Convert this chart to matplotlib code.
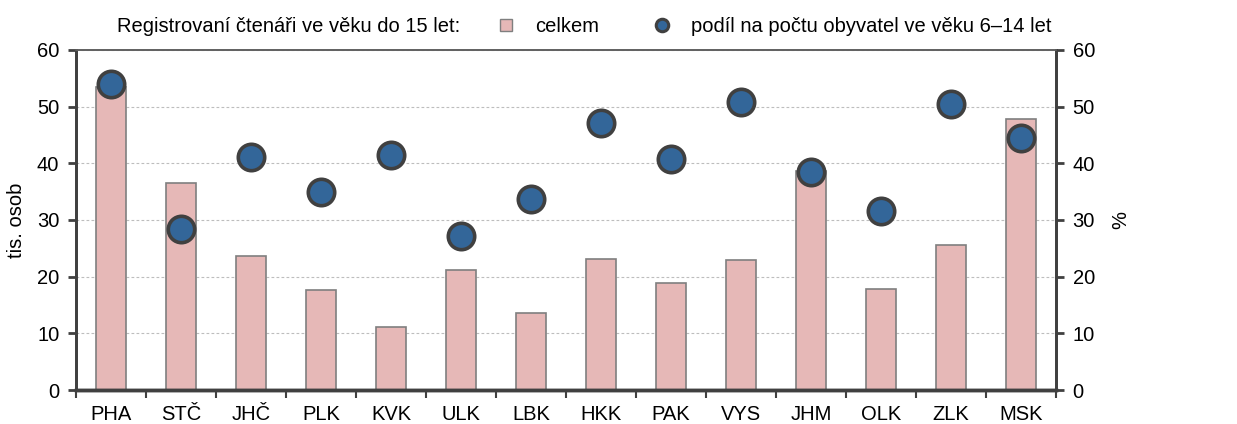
import numpy as np
import matplotlib.pyplot as plt
from matplotlib.lines import Line2D

plt.rcParams['font.family'] = ['Liberation Sans', 'DejaVu Sans']

kraje = ['PHA', 'STČ', 'JHČ', 'PLK', 'KVK', 'ULK', 'LBK', 'HKK', 'PAK', 'VYS',
         'JHM', 'OLK', 'ZLK', 'MSK']
celkem = [53.5, 36.5, 23.6, 17.6, 11.1, 21.2, 13.6, 23.2, 18.9, 22.9,
          38.7, 17.8, 25.6, 47.8]
podil = [54.0, 28.4, 41.2, 34.9, 41.5, 27.2, 33.7, 47.2, 40.8, 50.8,
         38.4, 31.6, 50.4, 44.5]

bar_col = '#e6b8b7'
dot_col = '#336699'
dark = '#404040'
fs = 14.5

fig = plt.figure(figsize=(12.37, 4.24), dpi=100)
ax = fig.add_axes([76/1237, 1-390/424, 980/1237, 340/424])
ax2 = ax.twinx()

x = np.arange(len(kraje))
ax.bar(x, celkem, width=0.44, color=bar_col, edgecolor='#7f7f7f', linewidth=1.2, zorder=2)
ax2.plot(x, podil, 'o', ms=19, mfc=dot_col, mec=dark, mew=2.6, zorder=3)

for a in (ax, ax2):
    a.set_ylim(0, 60)
    a.set_yticks(range(0, 61, 10))
    a.set_xlim(-0.5, len(kraje) - 0.5)
    for s in a.spines.values():
        s.set_color(dark)
    a.spines['left'].set_linewidth(2)
    a.spines['right'].set_linewidth(2)
    a.spines['bottom'].set_linewidth(2.5)
    a.spines['top'].set_linewidth(1.2)
    a.spines['top'].set_color('#606060')
    a.tick_params(axis='y', labelsize=fs, length=6, width=2, color=dark, pad=6)

ax.yaxis.grid(True, linestyle=(0, (2.5, 2)), color='#bdbdbd', linewidth=0.8, zorder=0)
ax.set_axisbelow(True)

ax.set_xticks(x)
ax.set_xticklabels(kraje, fontsize=fs)
ax.tick_params(axis='x', length=0, pad=11)
ax.set_xticks(np.arange(-0.5, len(kraje)), minor=True)
ax.tick_params(axis='x', which='minor', length=6, width=1.5, color=dark)

ax.set_ylabel('tis. osob', fontsize=fs, labelpad=8)
ax2.set_ylabel('%', fontsize=fs, labelpad=12)

fig.text(117/1237, 1-27/424, 'Registrovaní čtenáři ve věku do 15 let:', fontsize=fs,
         va='center', ha='left')
handles = [
    Line2D([], [], linestyle='none', marker='s', ms=9, mfc=bar_col, mec='#7f7f7f', mew=1),
    Line2D([], [], linestyle='none', marker='o', ms=9, mfc=dot_col, mec=dark, mew=2.2),
]
fig.legend(handles, ['celkem', 'podíl na počtu obyvatel ve věku 6–14 let'],
           loc='center left', bbox_to_anchor=(496/1237, 1-27/424), ncol=2, frameon=False,
           fontsize=fs, handlelength=1.0, handletextpad=0.95, columnspacing=2.6,
           borderaxespad=0, borderpad=0)

fig.savefig('out.png', dpi=100)
